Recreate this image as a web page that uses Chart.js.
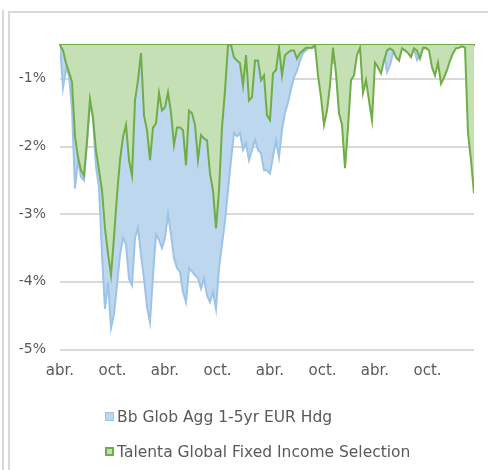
<!DOCTYPE html>
<html>
<head>
  <meta charset="utf-8">
  <title>Drawdown</title>
  <script src="https://cdn.jsdelivr.net/npm/chart.js"></script>
  <style>
    body { margin: 0; background: #fff; font-family: "DejaVu Sans", sans-serif; }
    #wrap { position: relative; width: 488px; height: 470px; overflow: hidden; }
    .edge { position: absolute; left: 2px; top: 10px; bottom: 0; border-left: 2px solid #d9d9d9; }
    .frame { position: absolute; left: 8px; top: 11px; right: -10px; bottom: -10px; border: 2px solid #d9d9d9; }
    canvas { position: absolute; left: 0; top: 0; }
    #legend { position: absolute; left: 105px; top: 399px; color: #595959; font-size: 15.5px; }
    #legend .item { height: 35px; display: flex; align-items: center; white-space: nowrap; }
    #legend .box { width: 9px; height: 9px; box-sizing: border-box; margin-right: 3px; }
  </style>
</head>
<body>
<div id="wrap">
  <div class="edge"></div>
  <div class="frame"></div>
  <canvas id="chart" width="488" height="470"></canvas>
  <div id="legend"></div>
</div>

<script>
  // drawdown values in %, one point roughly every 10 days
  const seriesNames = ["Bb Glob Agg 1-5yr EUR Hdg", "Talenta Global Fixed Income Selection"];
  const tickLabels = ["abr.", "oct.", "abr.", "oct.", "abr.", "oct.", "abr.", "oct."];

  const bbGlobAgg = [
    -0.5, -1.13, -0.85, -0.95, -1.45, -2.62, -2.2, -2.45, -2.5, -1.95,
    -1.35, -1.6, -2.3, -2.6, -3.6, -4.4, -4.0, -4.68, -4.48, -4.05,
    -3.6, -3.35, -3.45, -3.95, -4.05, -3.35, -3.2, -3.6, -3.95, -4.37,
    -4.6, -3.9, -3.3, -3.38, -3.5, -3.35, -3.0, -3.3, -3.65, -3.8,
    -3.85, -4.15, -4.3, -3.8, -3.85, -3.9, -3.95, -4.1, -3.95, -4.2,
    -4.3, -4.15, -4.4, -3.8, -3.45, -3.1, -2.65, -2.2, -1.8, -1.85,
    -1.8, -2.05, -1.95, -2.2, -2.05, -1.9, -2.05, -2.1, -2.35, -2.35,
    -2.4, -2.15, -1.91, -2.16, -1.75, -1.5, -1.35, -1.15, -0.98, -0.88,
    -0.73, -0.62, -0.58, -0.54, -0.55, -0.52, -0.6, -0.7, -0.75, -0.7,
    -0.65, -0.75, -0.8, -0.7, -0.72, -0.75, -0.7, -0.68, -0.65, -0.6,
    -0.55, -0.6, -0.65, -0.7, -0.68, -0.62, -0.6, -0.65, -0.62, -0.9,
    -0.8, -0.62, -0.6, -0.62, -0.55, -0.58, -0.6, -0.6, -0.55, -0.72,
    -0.66, -0.55, -0.55, -0.57, -0.62, -0.68, -0.65, -0.7, -0.68, -0.62,
    -0.58, -0.56, -0.55, -0.52, -0.5, -0.5, -0.52, -0.6, -0.65
  ];

  const talenta = [
    -0.5, -0.58, -0.77, -0.90, -1.05, -1.85, -2.16, -2.35, -2.43, -1.91,
    -1.30, -1.57, -2.06, -2.35, -2.65, -3.21, -3.58, -3.90, -3.34, -2.72,
    -2.20, -1.86, -1.68, -2.20, -2.43, -1.32, -1.02, -0.62, -1.54, -1.76,
    -2.20, -1.72, -1.66, -1.21, -1.47, -1.42, -1.20, -1.50, -1.98, -1.72,
    -1.72, -1.76, -2.28, -1.47, -1.51, -1.68, -2.20, -1.83, -1.88, -1.91,
    -2.40, -2.65, -3.21, -2.65, -1.72, -1.17, -0.5, -0.5, -0.68, -0.73,
    -0.77, -1.10, -0.65, -1.32, -1.27, -0.73, -0.73, -1.02, -0.95, -1.54,
    -1.61, -0.92, -0.87, -0.54, -0.95, -0.65, -0.61, -0.58, -0.58, -0.70,
    -0.62, -0.58, -0.54, -0.54, -0.54, -0.5, -0.95, -1.27, -1.68, -1.47,
    -1.10, -0.54, -0.92, -1.51, -1.68, -2.32, -1.72, -1.02, -0.95, -0.65,
    -0.54, -1.21, -1.02, -1.32, -1.61, -0.76, -0.83, -0.92, -0.73, -0.58,
    -0.55, -0.58, -0.68, -0.73, -0.55, -0.58, -0.62, -0.68, -0.55, -0.58,
    -0.70, -0.54, -0.54, -0.58, -0.83, -0.95, -0.76, -1.07, -0.98, -0.87,
    -0.73, -0.62, -0.55, -0.54, -0.52, -0.54, -1.80, -2.20, -2.69
  ];

  const step = 12 / 35; // months between points
  const toPoints = arr => arr.map((v, i) => ({ x: i * step, y: v }));
  const lastX = (talenta.length - 1) * step;
  const font = { family: "DejaVu Sans", size: 14 };

  const chart = new Chart(document.getElementById("chart"), {
    type: "line",
    data: {
      datasets: [
        {
          label: seriesNames[0],
          data: toPoints(bbGlobAgg),
          borderColor: "#9dc3e6",
          backgroundColor: "#bdd7ee",
          borderWidth: 2,
          fill: "end",
          order: 1
        },
        {
          label: seriesNames[1],
          data: toPoints(talenta),
          borderColor: "#70ad47",
          backgroundColor: "#c5e0b4",
          borderWidth: 2,
          fill: "end",
          order: 0
        }
      ]
    },
    options: {
      responsive: false,
      animation: false,
      layout: { padding: { top: 45, right: 14, left: 0, bottom: 0 } },
      elements: { point: { radius: 0 }, line: { tension: 0 } },
      plugins: { legend: { display: false }, tooltip: { enabled: false } },
      scales: {
        x: {
          type: "linear",
          min: 0,
          max: lastX,
          grid: { display: false, drawTicks: false },
          border: { display: false },
          ticks: {
            stepSize: 6,
            includeBounds: false,
            autoSkip: false,
            maxRotation: 0,
            padding: 13,
            color: "#595959",
            font: { family: "DejaVu Sans", size: 15 },
            callback: v => tickLabels[Math.round(v / 6)] || ""
          },
          afterFit: s => { s.height = 120.5; }
        },
        // area baseline along the top edge, as the green outline in the original
        xTop: {
          type: "linear",
          position: "top",
          min: 0,
          max: lastX,
          z: 1,
          grid: { display: false, drawTicks: false },
          border: { color: "#70ad47", width: 2 },
          ticks: { display: false },
          afterFit: s => { s.height = 0; }
        },
        y: {
          min: -5,
          max: -0.5,
          grid: { color: "#d9d9d9", lineWidth: 2, drawTicks: false },
          border: { display: false },
          ticks: {
            stepSize: 1,
            includeBounds: false,
            padding: 14,
            color: "#595959",
            font: font,
            callback: v => v + "%"
          },
          afterFit: s => { s.width = 60; }
        }
      }
    }
  });

  // legend in a column, like the original
  const legendEl = document.getElementById("legend");
  chart.data.datasets.forEach(ds => {
    const item = document.createElement("div");
    item.className = "item";
    const box = document.createElement("span");
    box.className = "box";
    box.style.background = ds.backgroundColor;
    box.style.border = (ds.order === 0 ? "2px" : "1px") + " solid " + ds.borderColor;
    item.appendChild(box);
    item.appendChild(document.createTextNode(ds.label));
    legendEl.appendChild(item);
  });
</script>
</body>
</html>
